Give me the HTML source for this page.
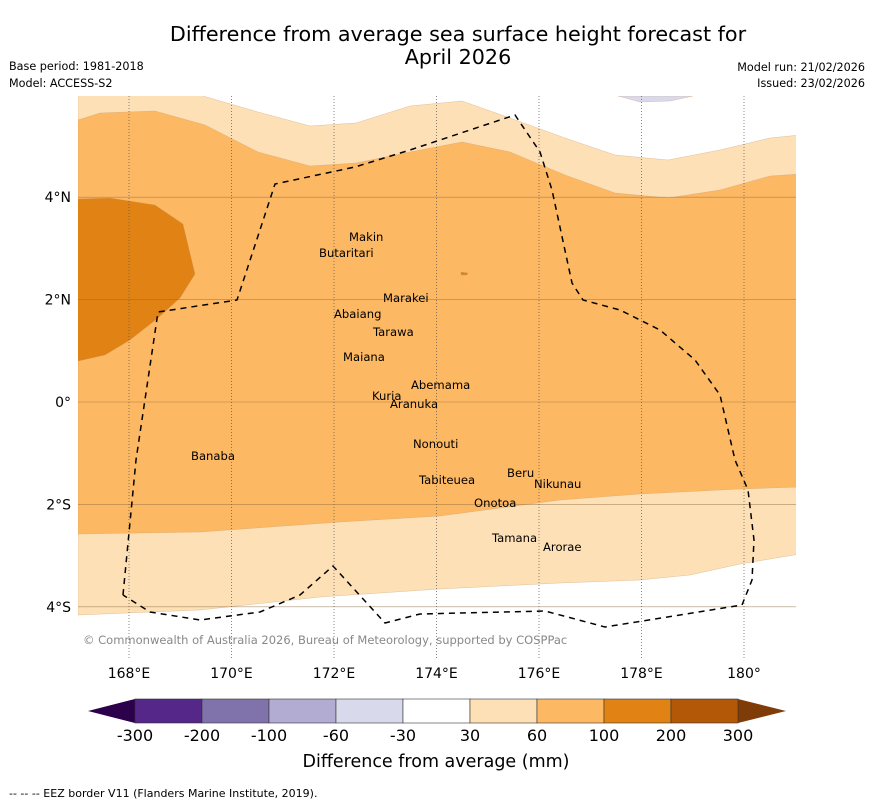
<!DOCTYPE html>
<html><head><meta charset="utf-8"><style>
body{margin:0;background:#fff;font-family:"DejaVu Sans","Liberation Sans",sans-serif}
svg{display:block}
</style></head><body>
<svg width="873" height="804" xmlns="http://www.w3.org/2000/svg" font-family="DejaVu Sans, Liberation Sans, sans-serif">
<text x="458" y="41" font-size="20.7" text-anchor="middle">Difference from average sea surface height forecast for</text>
<text x="458" y="64" font-size="20.7" text-anchor="middle">April 2026</text>
<text x="9" y="70" font-size="11.2">Base period: 1981-2018</text>
<text x="9" y="87" font-size="11.2">Model: ACCESS-S2</text>
<text x="865" y="71" font-size="11.2" text-anchor="end">Model run: 21/02/2026</text>
<text x="865" y="87" font-size="11.2" text-anchor="end">Issued: 23/02/2026</text>
<defs><clipPath id="mc"><rect x="78" y="96" width="718" height="564"/></clipPath></defs>
<g id="map" clip-path="url(#mc)"></g>
<g id="axes"></g>
<text x="83" y="644" font-size="11.5" fill="#888">© Commonwealth of Australia 2026, Bureau of Meteorology, supported by COSPPac</text>
<g id="cbar"></g>
<text x="436" y="767" font-size="17.5" text-anchor="middle">Difference from average (mm)</text>
<text x="9" y="797" font-size="11">--  --  -- EEZ border V11 (Flanders Marine Institute, 2019).</text>
</svg>
<script>
const lonTicks=[168,170,172,174,176,178,180];
const lonLabels=["168°E","170°E","172°E","174°E","176°E","178°E","180°"];
const latTicks=[4,2,0,-2,-4];
const latLabels=["4°N","2°N","0°","2°S","4°S"];
const cbLevels=["-300","-200","-100","-60","-30","30","60","100","200","300"];
const cbColors=["#542788","#8073ac","#b2abd2","#d8daeb","#ffffff","#fee0b6","#fdb863","#e08214","#b35806"];
const X=lon=>129+(lon-168)*51.25;
const Y=lat=>402-lat*51.2;
const L=x=>168+(x-129)/51.25, T=y=>(402-y)/51.2;
const pxPoly=a=>a.map(p=>[L(p[0]),T(p[1])]);
const bandLight=pxPoly([[78,90],[203,90],[203,96],[258,112],[310,126],[356,123],[410,106],[462,101],[510,118],[565,138],[615,155],[668,160],[720,150],[770,138],[800,135],[800,554],[740,564],[690,575],[640,580],[560,583],[440,589],[320,597],[200,610],[78,615]]);
const bandOrange=pxPoly([[78,120],[100,113],[155,111],[205,125],[258,152],[310,166],[356,163],[410,152],[462,142],[510,152],[565,175],[615,193],[668,198],[720,190],[770,176],[800,174],[800,487],[740,489],[640,494],[560,500],[500,508],[440,516],[340,522],[200,532],[78,534]]);
const blobDark=pxPoly([[74,199],[110,198],[155,205],[183,224],[195,274],[180,298],[158,318],[130,340],[105,355],[74,362]]);
const blobSmall=pxPoly([[461,272],[468,273],[467,275],[461,275]]);
const blobLav=pxPoly([[618,96],[693,96],[670,101],[640,102]]);
const eez=pxPoly([[123,595],[136,460],[158,312],[237,300],[275,184],[355,167],[410,150],[515,115],[540,152],[552,190],[572,283],[583,300],[620,310],[660,330],[695,360],[720,395],[735,460],[748,490],[754,540],[752,580],[742,605],[680,615],[605,627],[545,611],[420,614],[385,623],[333,566],[300,595],[260,612],[200,620],[150,612],[123,595]]);
const islands=[["Makin",349,237],["Butaritari",319,253],["Marakei",383,298],["Abaiang",334,314],["Tarawa",373,332],["Maiana",343,357],["Abemama",411,385],["Kuria",372,396],["Aranuka",390,404],["Nonouti",413,444],["Banaba",191,456],["Beru",507,473],["Nikunau",534,484],["Tabiteuea",419,480],["Onotoa",474,503],["Tamana",492,538],["Arorae",543,547]];
const NS="http://www.w3.org/2000/svg";
function mk(t,a,p){const e=document.createElementNS(NS,t);for(const k in a)e.setAttribute(k,a[k]);p.appendChild(e);return e;}
const map=document.getElementById('map');
const pts=a=>a.map(p=>X(p[0]).toFixed(1)+","+Y(p[1]).toFixed(1)).join(" ");
[[bandLight,"#fee0b6","light-band-30-60"],[bandOrange,"#fdb863","orange-band-60-100"],[blobDark,"#e08214","dark-orange-region-100-200"],[blobSmall,"#e08214","small-dark-patch"],[blobLav,"#d8daeb","lavender-patch"]].forEach(d=>{
 const e=mk('polygon',{points:pts(d[0]),fill:d[1],stroke:"#c9a070","stroke-width":0.3},map);
 
 
});
const ax=document.getElementById('axes');
lonTicks.forEach((v,i)=>{
 const l=mk('line',{x1:X(v),x2:X(v),y1:96,y2:660,stroke:"#555","stroke-width":0.7,"stroke-dasharray":"1,2"},map);
 
 
 const t=mk('text',{x:X(v),y:678,"font-size":14,"text-anchor":"middle"},ax);t.textContent=lonLabels[i];
 
 
});
latTicks.forEach((v,i)=>{
 const l=mk('line',{x1:78,x2:796,y1:Y(v),y2:Y(v),stroke:"#8a6a40","stroke-width":0.6,opacity:0.7},map);
 
 
 const t=mk('text',{x:71,y:Y(v)+5,"font-size":14,"text-anchor":"end"},ax);t.textContent=latLabels[i];
 
 
});
const ez=mk('polyline',{points:pts(eez),fill:"none",stroke:"#000","stroke-width":1.5,"stroke-dasharray":"6,5"},map);


islands.forEach(d=>{
 const t=mk('text',{x:d[1],y:d[2]+4,"font-size":11.6},map);t.textContent=d[0];
 
 
});
const cb=document.getElementById('cbar');
const x0=135,x1=738,y0=699,y1=723,w=(x1-x0)/cbColors.length;
const a1=mk('polygon',{points:`${x0},${y0} ${x0},${y1} 88,711`,fill:"#2d004b"},cb);


const a2=mk('polygon',{points:`${x1},${y0} ${x1},${y1} 786,711`,fill:"#7f3b08"},cb);


cbColors.forEach((c,i)=>{
 const r=mk('rect',{x:x0+i*w,y:y0,width:w,height:y1-y0,fill:c,stroke:"#333","stroke-width":0.6},cb);
 
 
});
cbLevels.forEach((s,i)=>{
 const t=mk('text',{x:x0+i*w,y:741,"font-size":16,"text-anchor":"middle"},cb);t.textContent=s;
 
 
});
</script>
</body></html>
